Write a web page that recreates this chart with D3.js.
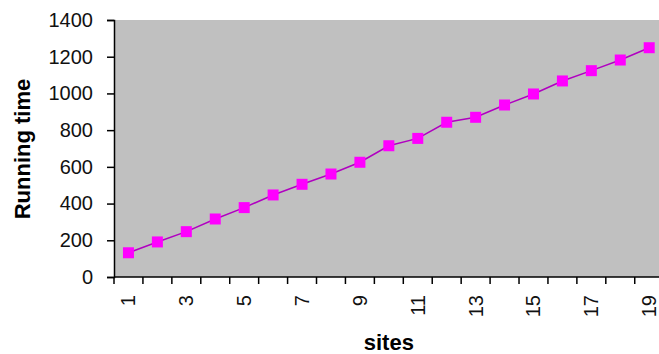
<!DOCTYPE html>
<html>
<head>
<meta charset="utf-8">
<script src="https://cdn.jsdelivr.net/npm/d3@7"></script>
<style>
  html, body { margin: 0; padding: 0; background: #fff; }
  svg { display: block; }
  text { font-family: "Liberation Sans", Arial, sans-serif; }
</style>
</head>
<body>
<svg id="chart" width="659" height="354"></svg>
<script>
const sites = d3.range(1, 20).map(String);
const runningTime = [132, 191, 247, 316, 378, 447, 505, 561, 625, 715, 755, 843, 870, 937, 997, 1068, 1124, 1182, 1249];
const yTicks = [0, 200, 400, 600, 800, 1000, 1200, 1400];
const xTickLabels = sites.filter((d, i) => i % 2 === 0);

const svg = d3.select("#chart");
const plotLeft = 114, plotTop = 20, plotBottom = 277, bandW = 28.93;
const plotRight = plotLeft + bandW * sites.length;

const x = d3.scaleBand().domain(sites).range([plotLeft, plotRight]).paddingInner(0).paddingOuter(0);
const y = d3.scaleLinear().domain([0, 1400]).range([plotBottom, plotTop]);

// plot background
svg.append("rect")
  .attr("x", plotLeft).attr("y", plotTop)
  .attr("width", plotRight - plotLeft).attr("height", plotBottom - plotTop)
  .attr("fill", "#c0c0c0");

// y axis
const yAxis = d3.axisLeft(y).tickValues(yTicks).tickSize(7).tickPadding(14).tickFormat(d3.format("d"));
const gy = svg.append("g").attr("transform", `translate(${plotLeft},0)`).call(yAxis);
gy.select(".domain").attr("stroke", "#000").attr("stroke-width", 1.5);
gy.selectAll(".tick line").attr("stroke", "#000").attr("stroke-width", 1.5);
gy.selectAll(".tick text").attr("font-size", 20).attr("fill", "#111")
  .attr("font-family", "'Liberation Sans', Arial, sans-serif");

// x axis: ticks at band boundaries
const gx = svg.append("g").attr("transform", `translate(0,${plotBottom})`);
gx.append("line").attr("x1", plotLeft).attr("x2", plotRight).attr("y1", 0).attr("y2", 0)
  .attr("stroke", "#000").attr("stroke-width", 1.5);
const boundaries = sites.map(s => x(s)).concat([plotRight]);
gx.selectAll("line.tk").data(boundaries).enter().append("line")
  .attr("class", "tk")
  .attr("x1", d => d).attr("x2", d => d).attr("y1", 0).attr("y2", 7)
  .attr("stroke", "#000").attr("stroke-width", 1.5);
gx.selectAll("text.lbl").data(xTickLabels).enter().append("text")
  .attr("class", "lbl")
  .attr("transform", d => `translate(${x(d) + x.bandwidth() / 2},${18}) rotate(-90)`)
  .attr("text-anchor", "end")
  .attr("dy", "0.35em")
  .attr("font-size", 20)
  .attr("fill", "#111")
  .text(d => d);

// line + markers
const line = d3.line().x((d, i) => x(sites[i]) + x.bandwidth() / 2).y(d => y(d));
svg.append("path").datum(runningTime)
  .attr("d", line).attr("fill", "none")
  .attr("stroke", "#b000c0").attr("stroke-width", 1.5);
svg.selectAll("rect.mk").data(runningTime).enter().append("rect")
  .attr("class", "mk")
  .attr("x", (d, i) => x(sites[i]) + x.bandwidth() / 2 - 5.5)
  .attr("y", d => y(d) - 5.5)
  .attr("width", 11).attr("height", 11)
  .attr("fill", "#ff00ff");

// axis titles
svg.append("text")
  .attr("transform", `translate(30,${149}) rotate(-90)`)
  .attr("text-anchor", "middle")
  .attr("font-size", 22).attr("font-weight", "bold")
  .text("Running time");
svg.append("text")
  .attr("x", (plotLeft + plotRight) / 2).attr("y", 350)
  .attr("text-anchor", "middle")
  .attr("font-size", 22).attr("font-weight", "bold")
  .text("sites");
</script>
</body>
</html>
